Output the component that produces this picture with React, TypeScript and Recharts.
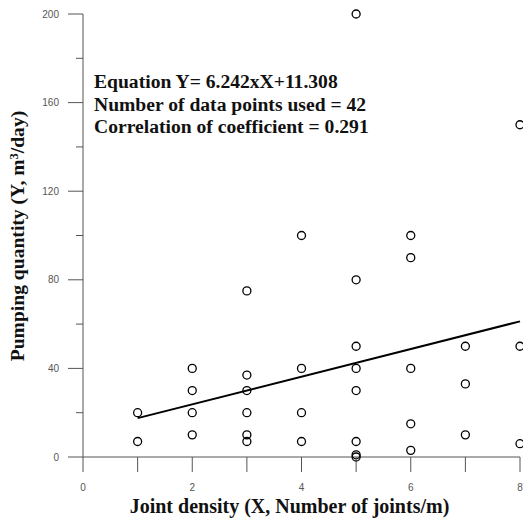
import React from 'react';
import { ScatterChart, Scatter, XAxis, YAxis } from 'recharts';

const xValues = [1, 1, 2, 2, 2, 2, 3, 3, 3, 3, 3, 3, 4, 4, 4, 4, 5, 5, 5, 5, 5, 5, 5, 5, 6, 6, 6, 6, 6, 7, 7, 7, 8, 8, 8];
const yValues = [20, 7, 40, 30, 20, 10, 75, 37, 30, 20, 10, 7, 100, 40, 20, 7, 200, 80, 50, 40, 30, 7, 1, 0, 100, 90, 40, 15, 3, 50, 33, 10, 150, 50, 6];
const slope = 6.242;
const intercept = 11.308;
const fitRange = [1, 8];
const xTicks = [0, 1, 2, 3, 4, 5, 6, 7, 8];
const xLabelTicks = [0, 2, 4, 6, 8];
const yTicks = [0, 20, 40, 60, 80, 100, 120, 140, 160, 180, 200];
const yLabelTicks = [0, 40, 80, 120, 160, 200];
const annotationLines = [
  'Equation Y= 6.242xX+11.308',
  'Number of data points used = 42',
  'Correlation of coefficient = 0.291',
];

const points = xValues.map((x, i) => ({ x, y: yValues[i] }));
const fitData = fitRange.map((x) => ({ x, y: slope * x + intercept }));

const SERIF = '"Liberation Serif", "Times New Roman", serif';
const SANS = '"Liberation Sans", Arial, sans-serif';

const XTick = (props: any) => {
  const { x, y, payload } = props;
  const major = xLabelTicks.includes(payload.value);
  return (
    <g>
      <line x1={x} x2={x} y1={y} y2={y + 15} stroke="#555" strokeWidth={1} />
      {major && (
        <text x={x} y={y + 34} textAnchor="middle" fontSize={10} fill="#555" fontFamily={SANS}>
          {payload.value}
        </text>
      )}
    </g>
  );
};

const YTick = (props: any) => {
  const { x, y, payload } = props;
  const major = yLabelTicks.includes(payload.value);
  return (
    <g>
      <line x1={major ? x - 15 : x - 7} x2={x} y1={y} y2={y} stroke="#555" strokeWidth={1} />
      {major && (
        <text x={x - 24} y={y + 3.5} textAnchor="end" fontSize={10} fill="#555" fontFamily={SANS}>
          {payload.value}
        </text>
      )}
    </g>
  );
};

const OpenCircle = (props: any) => {
  const { cx, cy } = props;
  return <circle cx={cx} cy={cy} r={4} fill="none" stroke="#000" strokeWidth={1.3} />;
};

const XTitle = (props: any) => {
  const { viewBox } = props;
  return (
    <text
      x={viewBox.x + viewBox.width / 2 - 12}
      y={viewBox.y + 56}
      textAnchor="middle"
      fontSize={20}
      fontWeight="bold"
      fontFamily={SERIF}
      fill="#111"
    >
      Joint density (X, Number of joints/m)
    </text>
  );
};

const YTitle = () => {
  const cx = 24;
  const cy = 236;
  return (
    <text
      x={cx}
      y={cy}
      transform={`rotate(-90 ${cx} ${cy})`}
      textAnchor="middle"
      fontSize={19.6}
      fontWeight="bold"
      fontFamily={SERIF}
      fill="#111"
    >
      <tspan>Pumping quantity (Y, m</tspan>
      <tspan dy={-6} fontSize={12.5}>3</tspan>
      <tspan dy={6}>/day)</tspan>
    </text>
  );
};

export default function App() {
  return (
    <div style={{ position: 'absolute', left: 0, top: 0, width: 523, height: 520, background: '#fff' }}>
      <ScatterChart width={523} height={520} margin={{ top: 14, right: 3, left: 0, bottom: 0 }}>
        <XAxis
          type="number"
          dataKey="x"
          domain={[0, 8]}
          ticks={xTicks}
          interval={0}
          tickSize={0}
          tickMargin={0}
          tickLine={false}
          tick={<XTick />}
          height={63}
          axisLine={{ stroke: '#555', strokeWidth: 1 }}
          label={<XTitle />}
        />
        <YAxis
          type="number"
          dataKey="y"
          domain={[0, 200]}
          ticks={yTicks}
          interval={0}
          tickSize={0}
          tickMargin={0}
          tickLine={false}
          tick={<YTick />}
          width={83}
          axisLine={{ stroke: '#555', strokeWidth: 1 }}
          label={<YTitle />}
        />
        <Scatter data={points} shape={<OpenCircle />} isAnimationActive={false} />
        <Scatter
          data={fitData}
          line={{ stroke: '#000', strokeWidth: 2 }}
          lineType="joint"
          shape={() => <g />}
          isAnimationActive={false}
        />
      </ScatterChart>
      <svg
        width={523}
        height={520}
        style={{ position: 'absolute', left: 0, top: 0, pointerEvents: 'none' }}
      >
        {annotationLines.map((t, i) => (
          <text
            key={i}
            x={94}
            y={88 + i * 22.5}
            fontSize={19.6}
            fontWeight="bold"
            fontFamily={SERIF}
            fill="#111"
          >
            {t}
          </text>
        ))}
      </svg>
    </div>
  );
}
